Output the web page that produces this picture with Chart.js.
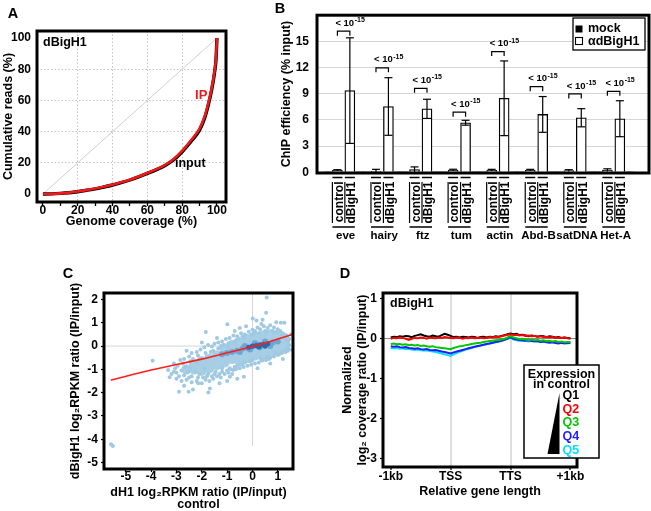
<!DOCTYPE html>
<html><head><meta charset="utf-8">
<script src="https://cdn.jsdelivr.net/npm/chart.js@4.4.1/dist/chart.umd.min.js"></script>
<style>
html,body{margin:0;padding:0;background:#fff;}
#wrap{position:relative;width:651px;height:511px;overflow:hidden;background:#fff;}
#wrap canvas{position:absolute;left:0;top:0;}
</style></head><body>
<div id="wrap">
<canvas id="cA" width="651" height="511"></canvas>
<canvas id="cB" width="651" height="511"></canvas>
<canvas id="cC" width="651" height="511"></canvas>
<canvas id="cD" width="651" height="511"></canvas>
</div>
<script>
// ================= DATA =================
// Panel A: cumulative reads vs genome coverage
const A_COVERAGE = [0,5,10,15,20,25,30,35,40,45,50,55,60,65,70,75,80,85,90,93,95,97,98.5,99.5,100];
const A_IP       = [0,0.1,0.4,0.9,1.6,2.5,3.5,4.7,6,7.5,9.2,11.2,13.5,15.8,18.6,22.3,27.7,34.3,42,50,58,68,78,88,100];
const A_INPUT    = [0,0.1,0.4,0.85,1.5,2.4,3.3,4.5,5.8,7.3,9,11,13.2,15.5,18.2,21.8,27.1,33.6,41,49,57,67,77,87,100];
const A_TICKS    = [0,20,40,60,80,100];

// Panel B: ChIP efficiency
const B_GENES        = ['eve','hairy','ftz','tum','actin','Abd-B','satDNA','Het-A'];
const B_CONDITIONS   = ['control','dBigH1'];
const B_MOCK_CONTROL = [0.05,0.04,0.06,0.05,0.05,0.04,0.05,0.05];
const B_MOCK_DBIGH1  = [0.06,0.05,0.06,0.05,0.06,0.05,0.05,0.06];
const B_AB_CONTROL     = [0.22,0.12,0.3,0.25,0.24,0.24,0.2,0.25];
const B_AB_CONTROL_ERR = [0.08,0.22,0.32,0.1,0.1,0.1,0.1,0.15];
const B_AB_DBIGH1      = [9.36,7.54,7.27,5.68,8.48,6.63,6.25,6.14];
const B_AB_DBIGH1_ERR  = [6.05,3.3,1.1,0.28,4.28,2.05,1.04,2.06];
const B_BRACKET        = [16.17,11.97,9.62,6.89,13.83,9.81,8.98,9.28];
const B_P_EXPONENT     = ['-15','-15','-15','-15','-15','-15','-15','-15'];
const B_TICKS          = [0,3,6,9,12,15];

// Panel C: dBigH1 vs dH1 log2 RPKM ratio
const C_X_TICKS = [-5,-4,-3,-2,-1,0,1];
const C_Y_TICKS = [-5,-4,-3,-2,-1,0,1,2];
const C_FIT_X = [-5.59,-4,-2,-1,0,0.5,1,1.58];
const C_FIT_Y = [-1.46,-1.03,-0.56,-0.29,-0.02,0.13,0.3,0.5];
const C_GENES = [
 [0.56,2.09],[0.54,1.43],[-0.99,0.94],[0.01,1.19],[-1.84,0.6],[-3.94,-0.63],[-5.51,-4.29],[-5.58,-4.22],
 [-2.9,-1.96],[-2.52,-1.96],[-1.74,-1.99],[-1.68,-1.82],[-0.34,-1.32],[1.56,-0.16],[1.53,0.51],[1.12,1.0],
 [1.26,1.0],[-3.27,-1.34],[-3.33,-1.03],[-0.5,0.78],[0.16,1.1],[0.4,1.13],[0.94,1.02],[-2.35,-1.86],
 [-2.14,-1.6],[-0.89,-1.32],[-0.76,-1.03],[0.54,-0.6],
 [-3.1,-0.75],[-2.85,-0.6],[-2.7,-0.55],[-2.5,-0.45],[-2.4,-0.3],[-2.2,-0.25],[-2.05,-0.15],[-1.9,-0.05],
 [-1.75,0.05],[-1.6,-0.02],[-1.5,0.1],[-1.35,0.15],[-1.2,0.2],[-1.05,0.3],[-0.9,0.35],[-0.75,0.45],
 [-0.6,0.42],[-0.45,0.55],[-0.3,0.5],[-0.15,0.62],[0.0,0.7],[0.1,0.65],[0.2,0.8],[0.3,0.72],[0.45,0.85],
 [0.6,0.78],[0.7,0.9],[0.85,0.8],[1.0,0.72],[1.1,0.65],[1.2,0.55],[1.35,0.45],[1.45,0.3],[-0.25,0.85],
 [0.35,0.95],[-1.4,0.35],[-2.6,-0.2],[-2.0,0.15],[0.8,0.65],[-0.7,0.65],
 [-3.2,-1.2],[-3.0,-1.4],[-2.8,-1.5],[-2.6,-1.45],[-2.4,-1.55],[-2.2,-1.5],[-2.0,-1.6],[-1.85,-1.45],
 [-1.7,-1.5],[-1.55,-1.4],[-1.4,-1.3],[-1.25,-1.35],[-1.1,-1.2],[-0.95,-1.15],[-0.8,-1.2],[-0.65,-1.0],
 [-0.5,-0.95],[-0.35,-0.9],[-0.2,-0.85],[-0.05,-0.8],[0.1,-0.75],[0.25,-0.7],[0.4,-0.62],[0.55,-0.55],
 [0.7,-0.5],[0.85,-0.45],[1.0,-0.38],[1.15,-0.3],[1.3,-0.25],[1.42,-0.12],[-1.3,-1.6],[-0.6,-1.4],
 [-2.7,-1.7],[-1.0,-1.5],[0.2,-0.95],[0.7,-0.75],[1.2,-0.55],
 [-3.05,-0.95],[-2.75,-0.75],[-2.45,-0.65],[-2.15,-0.4],[-1.85,-0.3],[-1.55,-0.2],[-1.25,0.0],[-0.95,0.12],
 [-0.65,0.25],[-0.35,0.35],[-0.05,0.5],[0.25,0.55],[0.55,0.6],[0.85,0.58],[1.15,0.48],[1.4,0.2],[1.45,0.05],
 [-3.1,-1.1],[-2.9,-1.3],[-2.5,-1.35],[-2.15,-1.35],[-1.8,-1.3],[-1.5,-1.2],[-1.2,-1.1],[-0.9,-0.95],
 [-0.6,-0.85],[-0.3,-0.7],[0.0,-0.6],[0.3,-0.5],[0.6,-0.45],[0.9,-0.3],[1.2,-0.25],[1.35,-0.1],
 [-3.0,-1.15],[-2.95,-0.85],[-2.8,-1.05],[-2.7,-1.25],[-2.65,-0.9],[-2.55,-1.1],[-2.45,-0.95],[-2.4,-1.3],
 [-2.35,-0.55],[-2.25,-1.1],[-2.2,-0.7],[-2.1,-1.2],[-2.05,-0.55],[-1.95,-1.35],[-1.9,-0.95],[-1.8,-0.45],
 [-1.75,-1.2],[-1.65,-0.25],[-1.6,-1.3],[-1.5,-0.45],[-1.45,-1.1],[-1.35,-0.1],[-1.3,-1.2],[-1.2,-0.95],
 [-1.15,0.05],[-1.0,-1.05],[-0.95,-0.05],[-0.85,-1.0],[-0.7,0.15],[-0.7,-0.9],[-0.55,0.3],[-0.4,-0.8],
 [-0.4,0.4],[-0.1,-0.65],[0.05,0.55],[0.35,-0.6],[0.5,0.65],[0.65,-0.55],[0.95,0.6],[1.05,-0.35],[1.3,0.3],[1.4,-0.2]
];
const C_DENSE = [
 [-2.6,-1.0],[-2.3,-0.8],[-2.3,-1.0],
 [-2.0,-0.65],[-2.0,-0.85],[-2.0,-1.05],
 [-1.7,-0.55],[-1.7,-0.75],[-1.7,-0.95],
 [-1.4,-0.4],[-1.4,-0.6],[-1.4,-0.8],
 [-1.1,-0.1],[-1.1,-0.3],[-1.1,-0.5],[-1.1,-0.7],
 [-0.8,0.05],[-0.8,-0.15],[-0.8,-0.35],[-0.8,-0.55],
 [-0.5,0.15],[-0.5,-0.05],[-0.5,-0.25],[-0.5,-0.45],[-0.5,-0.65],
 [-0.2,0.3],[-0.2,0.1],[-0.2,-0.1],[-0.2,-0.3],[-0.2,-0.5],
 [0.1,0.4],[0.1,0.2],[0.1,0.0],[0.1,-0.2],[0.1,-0.4],
 [0.4,0.45],[0.4,0.25],[0.4,0.05],[0.4,-0.15],[0.4,-0.35],
 [0.7,0.5],[0.7,0.3],[0.7,0.1],[0.7,-0.1],[0.7,-0.3],
 [1.0,0.45],[1.0,0.25],[1.0,0.05],[1.0,-0.15],
 [1.25,0.35],[1.25,0.15],[1.25,-0.05]
];
const C_CORE = [
 [-1.2,-0.35],[-1.0,-0.3],[-0.8,-0.25],[-0.6,-0.2],[-0.4,-0.12],[-0.2,-0.08],[0,-0.02],[0.2,0.03],
 [0.4,0.07],[0.6,0.1],[0.8,0.15],[1.0,0.2],[-0.5,-0.25],[-0.1,-0.15],[0.3,-0.05],[0.7,0.0],[0.1,0.12],
 [0.5,0.2],[-0.3,0.0]
];
const C_PEAK = [[0.0,0.0],[0.15,0.02],[0.3,0.05],[0.45,0.07],[0.6,0.1],[0.25,-0.03],[0.5,0.0],[-0.15,-0.05]];

// Panel D: metagene profiles
const D_X_LABELS = ['-1kb','TSS','TTS','+1kb'];
const D_Y_TICKS  = [-3,-2,-1,0,1];
const D_POS = [0,0.05,0.1,0.15,0.2,0.25,0.3,0.35,0.4,0.45,0.5,0.55,0.6,0.65,0.7,0.75,0.8,0.85,0.9,0.95,
 1,1.05,1.1,1.15,1.2,1.25,1.3,1.35,1.4,1.45,1.5,1.55,1.6,1.65,1.7,1.75,1.8,1.85,1.9,1.95,
 2,2.05,2.1,2.15,2.2,2.25,2.3,2.35,2.4,2.45,2.5,2.55,2.6,2.65,2.7,2.75,2.8,2.85,2.9,2.95,3];
const D_Q1 = [0.03,0.05,0.04,0.06,0.05,0.07,0.06,0.04,0.07,0.09,0.11,0.08,0.06,0.05,0.08,0.06,0.05,0.09,0.12,0.1,
 0.07,0.04,0.05,0.03,0.05,0.04,0.03,0.05,0.04,0.02,0.04,0.05,0.03,0.05,0.04,0.06,0.05,0.07,0.09,0.11,
 0.13,0.11,0.12,0.09,0.1,0.08,0.06,0.08,0.07,0.05,0.07,0.06,0.04,0.06,0.05,0.03,0.04,0.02,0.03,0.02,0.01];
const D_Q2 = [0,0.02,0.01,0.03,0.02,0,-0.03,0,0.02,0.01,0.03,0.02,0,0.03,0.02,0.01,0.03,0.02,0.04,0.03,
 0.02,0.01,0.03,0.02,0,0.02,0.01,0.03,0.01,0.02,0.03,0.01,0.02,0.04,0.03,0.05,0.04,0.06,0.08,0.1,
 0.11,0.09,0.1,0.08,0.09,0.07,0.08,0.06,0.07,0.05,0.06,0.04,0.05,0.03,0.04,0.02,0.03,0.02,0.03,0.01,0];
const D_Q3 = [-0.13,-0.12,-0.14,-0.13,-0.15,-0.14,-0.16,-0.15,-0.17,-0.16,-0.18,-0.17,-0.19,-0.2,-0.19,-0.21,-0.22,-0.23,-0.24,-0.25,
 -0.26,-0.23,-0.21,-0.19,-0.18,-0.16,-0.15,-0.13,-0.12,-0.11,-0.1,-0.08,-0.07,-0.06,-0.05,-0.04,-0.03,-0.02,0,0.03,
 0.07,0.03,0.01,-0.01,0,-0.02,-0.03,-0.02,-0.04,-0.03,-0.05,-0.04,-0.06,-0.05,-0.07,-0.06,-0.08,-0.07,-0.09,-0.08,-0.08];
const D_Q4 = [-0.19,-0.2,-0.19,-0.21,-0.22,-0.21,-0.23,-0.24,-0.25,-0.24,-0.26,-0.27,-0.26,-0.28,-0.29,-0.28,-0.3,-0.32,-0.33,-0.35,
 -0.37,-0.34,-0.32,-0.3,-0.28,-0.26,-0.24,-0.22,-0.2,-0.18,-0.17,-0.15,-0.13,-0.12,-0.1,-0.08,-0.07,-0.05,-0.03,0,
 0.04,0,-0.02,-0.03,-0.04,-0.05,-0.04,-0.06,-0.07,-0.06,-0.08,-0.07,-0.09,-0.1,-0.09,-0.11,-0.12,-0.1,-0.12,-0.11,-0.1];
const D_Q5 = [-0.23,-0.24,-0.23,-0.25,-0.24,-0.26,-0.25,-0.27,-0.28,-0.27,-0.29,-0.3,-0.29,-0.31,-0.32,-0.33,-0.35,-0.37,-0.39,-0.41,
 -0.43,-0.39,-0.36,-0.33,-0.3,-0.27,-0.25,-0.23,-0.21,-0.19,-0.17,-0.15,-0.14,-0.12,-0.1,-0.09,-0.07,-0.05,-0.03,-0.01,
 0.02,-0.02,-0.04,-0.05,-0.06,-0.05,-0.07,-0.06,-0.05,-0.07,-0.08,-0.07,-0.08,-0.09,-0.08,-0.1,-0.09,-0.11,-0.1,-0.12,-0.11];
const D_SERIES = ['Q1','Q2','Q3','Q4','Q5'];

// ================= SETUP =================
const FONT = '"Liberation Sans", Arial, Helvetica, sans-serif';
Chart.defaults.font.family = FONT;
Chart.defaults.font.weight = 'bold';
Chart.defaults.font.size = 12;
Chart.defaults.color = '#000';
Chart.defaults.animation = false;
Chart.defaults.responsive = false;
Chart.defaults.maintainAspectRatio = false;
Chart.defaults.devicePixelRatio = 1;
Chart.defaults.events = [];
Chart.defaults.plugins.legend.display = false;
Chart.defaults.plugins.tooltip.enabled = false;

const W = 651, H = 511;
function lay(l, t, r, b){ return {padding:{left:l, top:t, right:W-r, bottom:H-b}, autoPadding:false}; }
function fixedTicks(vals){ return s => { s.ticks = vals.map(v => ({value:v})); }; }
function T(ctx, s, x, y, o = {}){
  ctx.save();
  ctx.font = `${o.weight || 'bold'} ${o.size || 12}px ${FONT}`;
  ctx.fillStyle = o.color || '#000';
  ctx.textAlign = o.align || 'left';
  ctx.textBaseline = o.base || 'middle';
  if (o.rot) { ctx.translate(x, y); ctx.rotate(o.rot); ctx.fillText(s, 0, 0); }
  else ctx.fillText(s, x, y);
  ctx.restore();
}
function L(ctx, pts, w = 1.5, color = '#000'){
  ctx.save(); ctx.beginPath(); ctx.moveTo(pts[0], pts[1]);
  for (let i = 2; i < pts.length; i += 2) ctx.lineTo(pts[i], pts[i+1]);
  ctx.lineWidth = w; ctx.strokeStyle = color; ctx.stroke(); ctx.restore();
}
const frame = { id:'frame', afterDatasetsDraw(c){
  const a = c.chartArea, x = c.ctx; x.save(); x.lineWidth = 3; x.strokeStyle = '#000';
  x.strokeRect(a.left, a.top, a.right - a.left, a.bottom - a.top); x.restore(); } };
const titleFont = {size:12.5, weight:'bold'};

// ================= PANEL A =================
const gridA = c => (c.tick && c.tick.value > 0 && c.tick.value < 100 && c.tick.value % 20 === 0) ? '#c4c4c4' : 'rgba(0,0,0,0)';
new Chart(document.getElementById('cA'), {
  type:'scatter',
  data:{datasets:[
    {label:'IP', data:A_COVERAGE.map((x,i)=>({x, y:A_IP[i]})), showLine:true, borderColor:'#f01818', borderWidth:2.6, pointRadius:0, cubicInterpolationMode:'monotone'},
    {label:'input', data:A_COVERAGE.map((x,i)=>({x, y:A_INPUT[i]})), showLine:true, borderColor:'#000', borderWidth:3.4, pointRadius:0, cubicInterpolationMode:'monotone'},
    {label:'uniform', data:[{x:0,y:0},{x:100,y:100}], showLine:true, borderColor:'#cfcfcf', borderWidth:1, pointRadius:0}
  ]},
  options:{
    layout: lay(0, 31, 226, 229),
    scales:{
      x:{type:'linear', min:-3.4, max:105.2, afterFit(s){ s.height = 27; },
         afterBuildTicks: fixedTicks([0,10,20,30,40,50,60,70,80,90,100]),
         ticks:{callback:v => (v % 20 === 0 ? v : ''), padding:-1, maxRotation:0, autoSkip:false, font:{size:12, lineHeight:1}},
         grid:{color:gridA, tickColor:'#000', tickLength:4, tickWidth:1.3, lineWidth:1},
         border:{display:false, dash:[1.5,2]},
         title:{display:true, text:'Genome coverage (%)', padding:{top:0,bottom:0}, font:titleFont}},
      y:{type:'linear', min:-5.1, max:104.5, afterFit(s){ s.width = 37; },
         afterBuildTicks: fixedTicks(A_TICKS),
         ticks:{padding:6, font:{size:12}},
         grid:{color:gridA, drawTicks:false, lineWidth:1},
         border:{display:false, dash:[1.5,2]},
         title:{display:true, text:'Cumulative reads (%)', padding:{top:1,bottom:0}, font:titleFont}}
    }
  },
  plugins:[frame, {id:'annA', afterDraw(c){
    const ctx = c.ctx, a = c.chartArea, xs = c.scales.x, ys = c.scales.y;
    T(ctx, 'dBigH1', a.left + 6, a.top + 12, {size:12.5});
    T(ctx, 'IP', xs.getPixelForValue(87.4), ys.getPixelForValue(63.5), {size:13, color:'#f01818'});
    T(ctx, 'input', xs.getPixelForValue(75.9), ys.getPixelForValue(19.5), {size:12.5});
    [['A',13,13],['B',280,8],['C',68,273],['D',345,273]].forEach(([s,x,y]) => T(ctx, s, x, y + 5.2, {size:14.5, align:'center', base:'alphabetic'}));
  }}]
});

// ================= PANEL B =================
const B_DX = 0.323;  // offset of the dBigH1 bar from the control bar within a gene group
const bPos = [];
B_GENES.forEach((g,i) => { bPos.push(i, i + B_DX); });
const barBase = {grouped:false, barThickness:10, borderColor:'#000', borderWidth:1.3};
new Chart(document.getElementById('cB'), {
  type:'bar',
  data:{datasets:[
    Object.assign({label:'αdBigH1 control', data:B_AB_CONTROL.map((v,i)=>({x:i, y:v})), backgroundColor:'#fff'}, barBase),
    Object.assign({label:'αdBigH1 dBigH1', data:B_AB_DBIGH1.map((v,i)=>({x:i + B_DX, y:v})), backgroundColor:'#fff'}, barBase),
    Object.assign({label:'mock control', data:B_MOCK_CONTROL.map((v,i)=>({x:i - 0.25, y:v})), backgroundColor:'#000'}, barBase),
    Object.assign({label:'mock dBigH1', data:B_MOCK_DBIGH1.map((v,i)=>({x:i + B_DX + 0.25, y:v})), backgroundColor:'#000'}, barBase)
  ]},
  options:{
    layout: lay(278, 14, 649, 245),
    scales:{
      x:{type:'linear', min:-0.26, max:7.81, afterFit(s){ s.height = 72; },
         afterBuildTicks: fixedTicks(bPos),
         ticks:{display:false},
         grid:{display:false}, border:{display:false}},
      y:{type:'linear', min:-0.08, max:18, afterFit(s){ s.width = 39; },
         afterBuildTicks: fixedTicks(B_TICKS),
         ticks:{padding:8, font:{size:12}},
         grid:{color:c => (c.tick && c.tick.value > 0) ? '#d6d6d6' : 'rgba(0,0,0,0)', drawTicks:false, lineWidth:1},
         border:{display:false},
         title:{display:true, text:'ChIP efficiency (% input)', padding:{top:1.2,bottom:0}, font:titleFont}}
    }
  },
  plugins:[{id:'errB', afterDatasetsDraw(c){
    const ctx = c.ctx, xs = c.scales.x, ys = c.scales.y;
    [[B_AB_CONTROL, B_AB_CONTROL_ERR, 0],[B_AB_DBIGH1, B_AB_DBIGH1_ERR, B_DX]].forEach(([v,e,off]) => {
      v.forEach((val,i) => {
        const px = xs.getPixelForValue(i + off);
        const top = ys.getPixelForValue(val + e[i]);
        const lo = Math.max(val - e[i], 0);
        const bot = ys.getPixelForValue(lo);
        L(ctx, [px, bot, px, top], 1.2);
        L(ctx, [px - 4, top, px + 4, top], 1.2);
        if (lo > 0.5) L(ctx, [px - 4, bot, px + 4, bot], 1.2);
      });
    });
  }}, frame, {id:'decoB', afterDraw(c){
    const ctx = c.ctx, xs = c.scales.x, ys = c.scales.y, a = c.chartArea;
    // significance brackets
    B_GENES.forEach((g,i) => {
      const xl = xs.getPixelForValue(i), xr = xs.getPixelForValue(i + B_DX), yb = ys.getPixelForValue(B_BRACKET[i]);
      L(ctx, [xl, yb + 4.5, xl, yb, xr, yb, xr, yb + 4.5], 1.2);
      ctx.save(); ctx.font = `bold 9.5px ${FONT}`; const w = ctx.measureText('< 10').width; ctx.restore();
      T(ctx, '< 10', xl - 2, yb - 8, {size:9.5});
      T(ctx, B_P_EXPONENT[i], xl - 2 + w + 0.5, yb - 11, {size:7});
    });
    // category labels and lines below the axis (positions from the x scale)
    const yLine = a.bottom + 4.5;
    B_GENES.forEach((g,i) => {
      const p0 = xs.getPixelForValue(i), p1 = xs.getPixelForValue(i + B_DX);
      [p0, p1].forEach((p,k) => {
        L(ctx, [p - 5, yLine, p + 5, yLine], 1.5);
        L(ctx, [p - 5, a.bottom + 9, p - 5, a.bottom + 50], 1.2);
        T(ctx, B_CONDITIONS[k], p + 2, a.bottom + 8.5, {size:12, align:'right', rot:-Math.PI/2});
      });
      L(ctx, [p0 - 5, a.bottom + 54, p1 + 5, a.bottom + 54], 1.5);
      T(ctx, g, (p0 + p1) / 2 + 2, a.bottom + 63, {size:11.5, align:'center'});
    });
    // legend
    ctx.save(); ctx.fillStyle = '#fff'; ctx.fillRect(573, 18, 72, 32);
    ctx.lineWidth = 1.3; ctx.strokeStyle = '#000'; ctx.strokeRect(573, 18, 72, 32);
    ctx.fillStyle = '#000'; ctx.fillRect(575.5, 25.5, 7, 7);
    ctx.fillStyle = '#fff'; ctx.fillRect(575.5, 37.5, 7, 7); ctx.lineWidth = 1.1; ctx.strokeRect(575.5, 37.5, 7, 7);
    ctx.restore();
    T(ctx, 'mock', 588, 29, {size:12.5});
    T(ctx, 'αdBigH1', 588, 41.5, {size:12.5});
  }}]
});

// ================= PANEL C =================
const ptData = arr => arr.map(([x,y]) => ({x, y}));
new Chart(document.getElementById('cC'), {
  type:'scatter',
  data:{datasets:[
    {label:'fit', data:C_FIT_X.map((x,i)=>({x, y:C_FIT_Y[i]})), showLine:true, borderColor:'#ff1e1e', borderWidth:1.6, pointRadius:0, cubicInterpolationMode:'monotone'},
    {label:'peak', data:ptData(C_PEAK), pointRadius:2.6, pointBackgroundColor:'#2a68aa', pointBorderWidth:0},
    {label:'core', data:ptData(C_CORE), pointRadius:3, pointBackgroundColor:'#6ea6d3', pointBorderWidth:0},
    {label:'genes', data:ptData(C_GENES), pointRadius:2, pointBackgroundColor:'#9fc9e2', pointBorderWidth:0},
    {label:'dense', data:ptData(C_DENSE), pointRadius:5.2, pointBackgroundColor:'#a6cee4', pointBorderWidth:0}
  ]},
  options:{
    layout: lay(68, 293, 293, 510),
    scales:{
      x:{type:'linear', min:-5.86, max:1.6, afterFit(s){ s.height = 41; },
         afterBuildTicks: fixedTicks(C_X_TICKS),
         ticks:{padding:-1, maxRotation:0, autoSkip:false, font:{size:12, lineHeight:1}},
         grid:{color:'rgba(0,0,0,0)', tickColor:'#000', tickLength:3, tickWidth:1.2},
         border:{display:false},
         title:{display:true, text:['dH1 log\u2082RPKM ratio (IP/input)','control'], padding:{top:0,bottom:0}, font:{size:12.5, weight:'bold', lineHeight:0.95}}},
      y:{type:'linear', min:-5.28, max:2.28, afterFit(s){ s.width = 36; },
         afterBuildTicks: fixedTicks(C_Y_TICKS),
         ticks:{padding:3, font:{size:12}},
         grid:{color:'rgba(0,0,0,0)', tickColor:'#000', tickLength:3, tickWidth:1.2},
         border:{display:false},
         title:{display:true, text:'dBigH1 log\u2082RPKM ratio (IP/input)', padding:{top:0.5,bottom:0}, font:titleFont}}
    }
  },
  plugins:[{id:'refC', beforeDatasetsDraw(c){
    const ctx = c.ctx, xs = c.scales.x, ys = c.scales.y, a = c.chartArea;
    L(ctx, [a.left, ys.getPixelForValue(0), a.right, ys.getPixelForValue(0)], 1, '#d4d4d4');
    L(ctx, [xs.getPixelForValue(0), a.top, xs.getPixelForValue(0), ys.getPixelForValue(-4.3)], 1, '#d4d4d4');
  }}, frame]
});

// ================= PANEL D =================
const D_COLORS = ['#000000','#ff0000','#00c800','#1e1eff','#00e1ff'];
const dSeries = [D_Q1, D_Q2, D_Q3, D_Q4, D_Q5];
const dOrder = [1, 0, 2, 3, 4]; // draw order (first = topmost)
new Chart(document.getElementById('cD'), {
  type:'scatter',
  data:{datasets: dOrder.map(k => ({label:D_SERIES[k], data:D_POS.map((x,i)=>({x, y:dSeries[k][i]})), showLine:true, borderColor:D_COLORS[k], borderWidth:2, pointRadius:0}))},
  options:{
    layout: lay(339, 293, 577, 499),
    scales:{
      x:{type:'linear', min:-0.13, max:3.11, afterFit(s){ s.height = 32; },
         afterBuildTicks: fixedTicks([0,1,2,3]),
         ticks:{callback:(v,idx) => D_X_LABELS[idx], padding:1, maxRotation:0, autoSkip:false, font:{size:12, lineHeight:1}},
         grid:{color:c => (c.tick && (c.tick.value === 1 || c.tick.value === 2)) ? '#dedede' : 'rgba(0,0,0,0)', lineWidth:2, tickColor:'#000', tickLength:3, tickWidth:1.2},
         border:{display:false},
         title:{display:true, text:'Relative gene length', padding:{top:0,bottom:0}, font:titleFont}},
      y:{type:'linear', min:-3.2, max:1.14, afterFit(s){ s.width = 44; },
         afterBuildTicks: fixedTicks(D_Y_TICKS),
         ticks:{padding:3, font:{size:12}},
         grid:{color:c => (c.tick && c.tick.value === 0) ? '#8a8a8a' : 'rgba(0,0,0,0)', lineWidth:1, tickColor:'#000', tickLength:3, tickWidth:1.2},
         border:{display:false},
         title:{display:true, text:['Normalized','log\u2082 coverage ratio (IP/input)'], padding:{top:0.8,bottom:0}, font:titleFont}}
    }
  },
  plugins:[frame, {id:'legD', afterDraw(c){
    const ctx = c.ctx, a = c.chartArea;
    T(ctx, 'dBigH1', a.left + 7, a.top + 10.5, {size:12.5});
    ctx.save(); ctx.fillStyle = '#fff'; ctx.fillRect(524, 365, 75, 93);
    ctx.lineWidth = 1.5; ctx.strokeStyle = '#000'; ctx.strokeRect(524, 365, 75, 93);
    ctx.beginPath(); ctx.moveTo(559.5, 393); ctx.lineTo(559.5, 454); ctx.lineTo(547.5, 454); ctx.closePath();
    ctx.fillStyle = '#000'; ctx.fill(); ctx.restore();
    T(ctx, 'Expression', 561.5, 374.5, {size:12.5, align:'center'});
    T(ctx, 'in control', 561.5, 385, {size:12.5, align:'center'});
    const ys = [396, 409.5, 423, 436.5, 450.5];
    D_SERIES.forEach((q,k) => T(ctx, q, 562.5, ys[k], {size:12.5, color:D_COLORS[k]}));
  }}]
});
</script></body></html>
